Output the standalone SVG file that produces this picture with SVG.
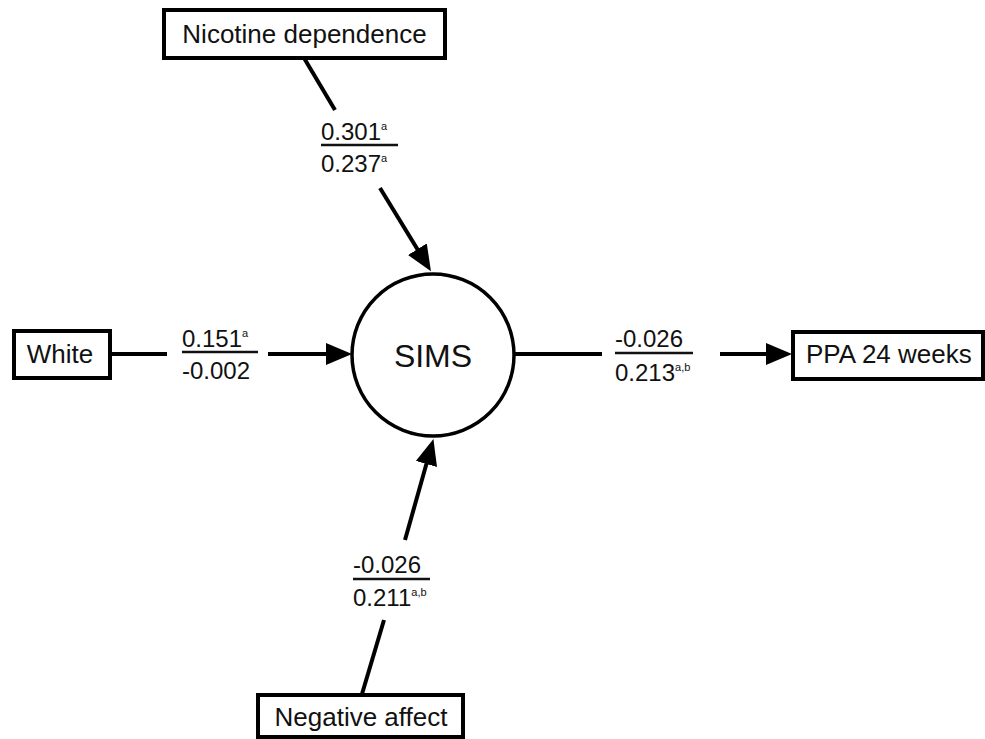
<svg xmlns="http://www.w3.org/2000/svg" width="985" height="739" viewBox="0 0 985 739">
<style>
  .box { fill: #fff; stroke: #000; stroke-width: 4; }
  .lbl { font-family: "Liberation Sans", Arial, sans-serif; font-size: 26px; fill: #111; }
  .coef { font-family: "Liberation Sans", Arial, sans-serif; font-size: 24px; fill: #111; }
  .sup { font-size: 11px; }
  .edge { stroke: #000; stroke-width: 4; fill: none; }
  .ul { stroke: #111; stroke-width: 2.5; }
</style>
<defs>
  <marker id="arr" markerUnits="userSpaceOnUse" markerWidth="26" markerHeight="22" refX="14" refY="11" orient="auto">
    <path d="M0,0 L26,11 L0,22 z" fill="#000"/>
  </marker>
</defs>
<rect width="985" height="739" fill="#fff"/>
<g id="connectors">
  <line class="edge" x1="304" y1="58" x2="335" y2="110"/>
  <line class="edge" x1="380" y1="188" x2="424.7" y2="261.1" marker-end="url(#arr)"/>
  <line class="edge" x1="110" y1="354" x2="167" y2="354"/>
  <line class="edge" x1="268" y1="354" x2="340" y2="354" marker-end="url(#arr)"/>
  <line class="edge" x1="514" y1="354" x2="602" y2="354"/>
  <line class="edge" x1="720" y1="354" x2="780" y2="354" marker-end="url(#arr)"/>
  <line class="edge" x1="362" y1="694" x2="384" y2="620"/>
  <line class="edge" x1="405" y1="540" x2="430.2" y2="450.5" marker-end="url(#arr)"/>
</g>
<g id="labels">
  <text class="coef" x="321" y="140">0.301<tspan class="sup" dy="-10">a</tspan></text>
  <line class="ul" x1="321" y1="145" x2="398" y2="145"/>
  <text class="coef" x="321" y="172">0.237<tspan class="sup" dy="-10">a</tspan></text>

  <text class="coef" x="182" y="347">0.151<tspan class="sup" dy="-10">a</tspan></text>
  <line class="ul" x1="182" y1="352" x2="258" y2="352"/>
  <text class="coef" x="182" y="379">-0.002</text>

  <text class="coef" x="615" y="347">-0.026</text>
  <line class="ul" x1="615" y1="353" x2="693" y2="353"/>
  <text class="coef" x="615" y="381">0.213<tspan class="sup" dy="-10">a,b</tspan></text>

  <text class="coef" x="353" y="573">-0.026</text>
  <line class="ul" x1="353" y1="579" x2="430" y2="579"/>
  <text class="coef" x="353" y="606">0.211<tspan class="sup" dy="-10">a,b</tspan></text>
</g>
<g id="nicotine">
  <rect class="box" x="164" y="10" width="281" height="48"/>
  <text class="lbl" x="304.5" y="43" text-anchor="middle">Nicotine dependence</text>
</g>
<g id="white">
  <rect class="box" x="14" y="331" width="96" height="47"/>
  <text class="lbl" x="60" y="363" text-anchor="middle">White</text>
</g>
<g id="sims">
  <circle cx="433" cy="355" r="81" fill="#fff" stroke="#000" stroke-width="3.5"/>
  <text x="433" y="367" text-anchor="middle" font-family="Liberation Sans, Arial, sans-serif" font-size="32" fill="#111">SIMS</text>
</g>
<g id="ppa">
  <rect class="box" x="793" y="332" width="190" height="47"/>
  <text class="lbl" x="806" y="363">PPA 24 weeks</text>
</g>
<g id="negative">
  <rect class="box" x="258" y="695" width="205" height="42"/>
  <text class="lbl" x="361" y="726" text-anchor="middle">Negative affect</text>
</g>
</svg>
